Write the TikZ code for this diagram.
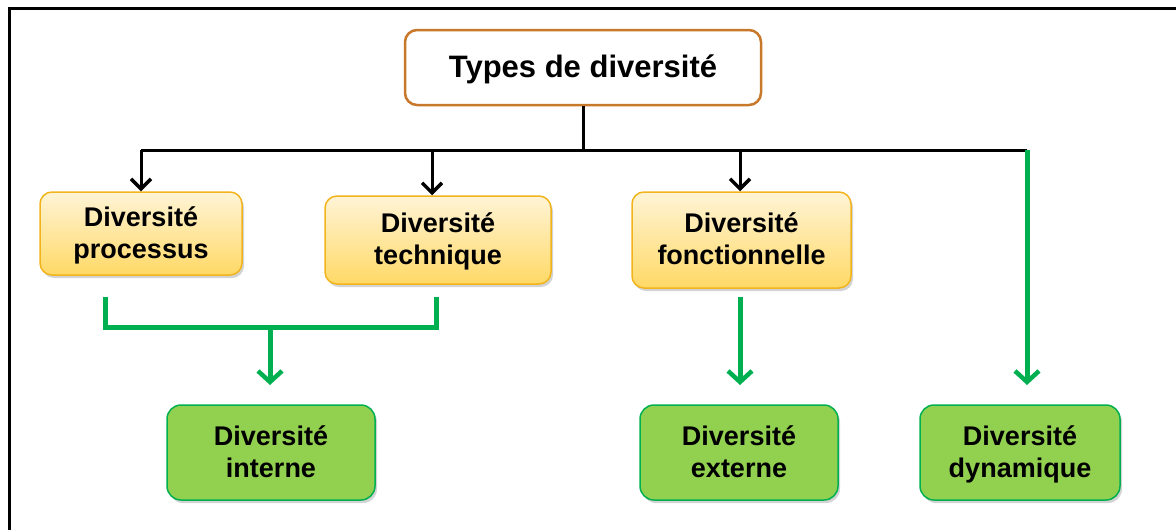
\documentclass[tikz,border=0pt]{standalone}
\usepackage{fontspec}
\setmainfont{Liberation Sans}
\usetikzlibrary{arrows.meta,shadows}
\definecolor{typesborder}{HTML}{C8782A}
\definecolor{yellowborder}{HTML}{F2B41C}
\definecolor{yellowtop}{HTML}{FFF4D6}
\definecolor{yellowbot}{HTML}{FFD966}
\definecolor{greenfill}{HTML}{92D050}
\definecolor{greenline}{HTML}{00B050}

\begin{document}
\begin{tikzpicture}[x=1pt,y=-1pt,
                      typebox/.style={draw=typesborder,line width=2.5pt,fill=white,
                        rounded corners=12pt,minimum width=356pt,minimum height=75pt,text depth=2pt,
                        font=\bfseries\fontsize{31}{36}\selectfont},
                      yellowbox/.style={draw=yellowborder,line width=1.5pt,
                        top color=yellowtop,bottom color=yellowbot,
                        rounded corners=12pt,align=center,text depth=2pt,
                        drop shadow={shadow xshift=2pt,shadow yshift=-3pt,opacity=.35},
                        font=\bfseries\fontsize{27}{32}\selectfont},
                      greenbox/.style={draw=greenline,line width=1.5pt,fill=greenfill,
                        rounded corners=14pt,align=center,minimum height=95pt,text depth=2pt,
                        drop shadow={shadow xshift=2pt,shadow yshift=-3pt,opacity=.35},
                        font=\bfseries\fontsize{27}{32}\selectfont},
                      blackline/.style={draw=black,line width=3pt},
                      greenline/.style={draw=greenline,line width=5pt},
                      blackarrow/.style={blackline,-{Straight Barb[length=10pt,width=20pt,line width=3.5pt]}},
                      greenarrow/.style={greenline,-{Straight Barb[length=11pt,width=24pt,line width=4.5pt]}}]

  \useasboundingbox (0,0) rectangle (1176,530);
  \draw[line width=3pt] (9,600) -- (9,8) -- (1200,8);

  \node[typebox] (types) at (583,67.5) {Types de diversité};

  \node[yellowbox,minimum width=202pt,minimum height=83pt] (processus) at (141,233.5) {Diversité\\processus};
  \node[yellowbox,minimum width=226pt,minimum height=88pt] (technique) at (438,240) {Diversité\\technique};
  \node[yellowbox,minimum width=219pt,minimum height=96pt] (fonctionnelle) at (741.5,240) {Diversité\\fonctionnelle};

  \node[greenbox,minimum width=208pt] (interne) at (271,452.5) {Diversité\\interne};
  \node[greenbox,minimum width=198pt] (externe) at (739,452.5) {Diversité\\externe};
  \node[greenbox,minimum width=200pt] (dynamique) at (1020,452.5) {Diversité\\dynamique};

  % black tree
  \coordinate (split) at (types.south |- 0,150);
  \coordinate (left) at (141,150);
  \coordinate (right) at (1027,150);
  \draw[blackline] (types.south) -- (split);
  \draw[blackline] (left) -- (right);
  \draw[blackarrow] (left) -- (processus.north);
  \draw[blackarrow] (432,150) -- (technique.north -| 432,0);
  \draw[blackarrow] (740,150) -- (fonctionnelle.north -| 740,0);

  % green links
  \coordinate (pa) at (105,297);
  \coordinate (pb) at (436,297);
  \coordinate (join) at (270,327);
  \draw[greenline] (pa) -- (105,327) -- (436,327) -- (pb);
  \draw[greenarrow] (join) -- (270,385);
  \draw[greenarrow] (740,297) -- (740,385);
  \draw[greenarrow] (right) -- (1027,385);
\end{tikzpicture}
\end{document}
